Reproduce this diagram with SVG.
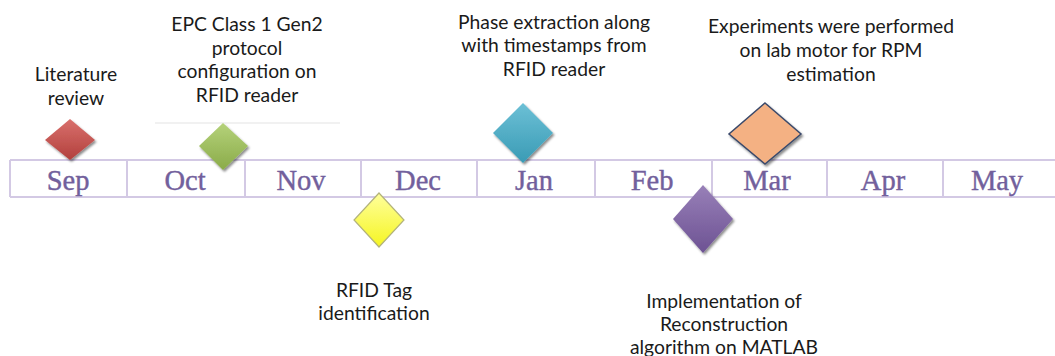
<svg xmlns="http://www.w3.org/2000/svg" width="1055" height="356" viewBox="0 0 1055 356">
<style>
.lbl{font-family:Lato,"Open Sans","Liberation Sans",sans-serif;font-size:19.3px;fill:#1a1a1a;text-anchor:middle}
.mon{font-family:"Liberation Serif","DejaVu Serif",serif;font-size:28.5px;fill:#72609c;stroke:#72609c;stroke-width:0.4;text-anchor:middle}
.band{stroke:#d3c9e4;stroke-width:2;fill:none}
</style>
<defs>
<linearGradient id="gRed" x1="0" y1="0" x2="0" y2="1"><stop offset="0" stop-color="#d9706c"/><stop offset="1" stop-color="#b2403d"/></linearGradient>
<linearGradient id="gGreen" x1="0" y1="0" x2="0" y2="1"><stop offset="0" stop-color="#b5d27a"/><stop offset="1" stop-color="#8aab49"/></linearGradient>
<linearGradient id="gTeal" x1="0" y1="0" x2="0" y2="1"><stop offset="0" stop-color="#6cc0d6"/><stop offset="1" stop-color="#3a9bb5"/></linearGradient>
<linearGradient id="gYellow" x1="0" y1="0" x2="0" y2="1"><stop offset="0" stop-color="#ffff9c"/><stop offset="1" stop-color="#f5f522"/></linearGradient>
<linearGradient id="gPurple" x1="0" y1="0" x2="0" y2="1"><stop offset="0" stop-color="#9880b8"/><stop offset="1" stop-color="#6d5293"/></linearGradient>
<filter id="sh" x="-30%" y="-30%" width="160%" height="160%"><feDropShadow dx="1.5" dy="2" stdDeviation="1.2" flood-color="#000" flood-opacity="0.45"/></filter>
</defs>
<rect width="1055" height="356" fill="#fff"/>
<g id="timeline">
<line class="band" x1="10" y1="160" x2="1055" y2="160"/>
<line class="band" x1="10" y1="197" x2="1055" y2="197"/>
<line class="band" x1="10" y1="160" x2="10" y2="197"/>
<line class="band" x1="127" y1="160" x2="127" y2="197"/>
<line class="band" x1="245" y1="160" x2="245" y2="197"/>
<line class="band" x1="361" y1="160" x2="361" y2="197"/>
<line class="band" x1="477" y1="160" x2="477" y2="197"/>
<line class="band" x1="595" y1="160" x2="595" y2="197"/>
<line class="band" x1="712" y1="160" x2="712" y2="197"/>
<line class="band" x1="827" y1="160" x2="827" y2="197"/>
<line class="band" x1="943" y1="160" x2="943" y2="197"/>
<text class="mon" x="68" y="190">Sep</text>
<text class="mon" x="185" y="190">Oct</text>
<text class="mon" x="301" y="190">Nov</text>
<text class="mon" x="418" y="190">Dec</text>
<text class="mon" x="534" y="190">Jan</text>
<text class="mon" x="652" y="190">Feb</text>
<text class="mon" x="767" y="190">Mar</text>
<text class="mon" x="883" y="190">Apr</text>
<text class="mon" x="997" y="190">May</text>
<line x1="155" y1="123" x2="340" y2="123" stroke="#ededed" stroke-width="1.5"/>
</g>
<g id="m-literature">
<polygon points="70,119 95,140 70,160 45,140" fill="url(#gRed)" filter="url(#sh)"/>
<text class="lbl" x="76" y="81">Literature</text>
<text class="lbl" x="76" y="105">review</text>
</g>
<g id="m-epc">
<polygon points="223,123 248,146 223,170 199,146" fill="url(#gGreen)" filter="url(#sh)"/>
<text class="lbl" x="247" y="31">EPC Class 1 Gen2</text>
<text class="lbl" x="247" y="54.5">protocol</text>
<text class="lbl" x="247" y="78">configuration on</text>
<text class="lbl" x="247" y="101.5">RFID reader</text>
</g>
<g id="m-rfidtag">
<polygon points="379,193 404,220 379,247 354,220" fill="url(#gYellow)" stroke="#b3b37a" stroke-width="1.2"/>
<text class="lbl" x="374" y="297">RFID Tag</text>
<text class="lbl" x="374" y="320">identification</text>
</g>
<g id="m-phase">
<polygon points="523,103 553,133 523,163 493,133" fill="url(#gTeal)" filter="url(#sh)"/>
<text class="lbl" x="554" y="29">Phase extraction along</text>
<text class="lbl" x="554" y="52">with timestamps from</text>
<text class="lbl" x="554" y="76">RFID reader</text>
</g>
<g id="m-implementation">
<polygon points="703,185 733,219 703,253 673,219" fill="url(#gPurple)" filter="url(#sh)"/>
<text class="lbl" x="724" y="308">Implementation of</text>
<text class="lbl" x="724" y="331">Reconstruction</text>
<text class="lbl" x="724" y="354">algorithm on MATLAB</text>
</g>
<g id="m-experiments">
<polygon points="765,103 801,134 765,164 729,134" fill="#f4b183" stroke="#3b4a6b" stroke-width="1.5" filter="url(#sh)"/>
<text class="lbl" x="831" y="33">Experiments were performed</text>
<text class="lbl" x="831" y="57">on lab motor for RPM</text>
<text class="lbl" x="831" y="81">estimation</text>
</g>
</svg>
